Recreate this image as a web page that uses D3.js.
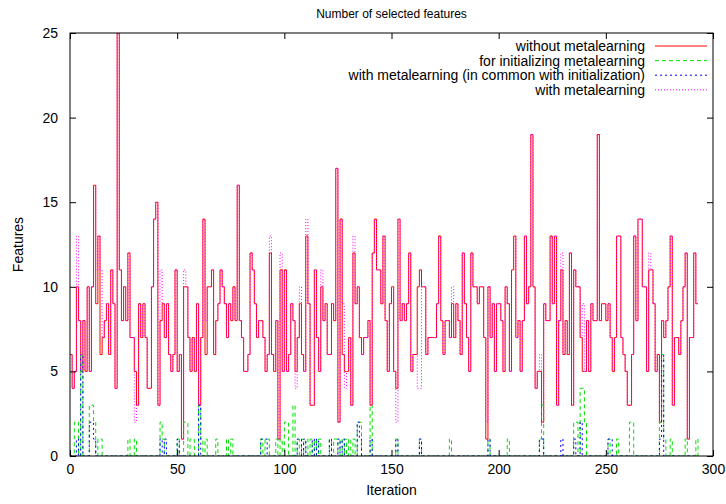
<!DOCTYPE html>
<html><head><meta charset="utf-8">
<script src="https://cdn.jsdelivr.net/npm/d3@7"></script>
<style>body{margin:0;background:#fff}svg{display:block}text{font-family:"Liberation Sans",Arial,sans-serif}</style>
</head><body>
<script>
const title = "Number of selected features";
const xLabel = "Iteration";
const yLabel = "Features";
const xTicks = [0, 50, 100, 150, 200, 250, 300];
const yTicks = [0, 5, 10, 15, 20, 25];
const seriesNames = ["without metalearning", "for initializing metalearning",
  "with metalearning (in common with initialization)", "with metalearning"];

const withoutMeta = [
  6,4,5,10,8,5,8,5,10,5, 10,16,9,13,6,7,8,9,6,11, 9,4,25,11,8,10,8,12,7,7,
  5,3,9,7,9,7,4,4,10,14, 15,3,8,9,7,9,6,5,6,11, 5,6,1,10,10,7,5,7,5,9,
  3,7,14,6,10,10,11,6,8,9, 11,10,9,7,9,8,10,8,16,8, 7,5,5,6,12,11,9,7,8,8,
  7,5,6,12,6,5,8,1,11,5, 11,5,6,9,8,5,7,9,6,5, 13,9,3,3,11,7,5,10,8,9,
  6,6,9,8,17,2,14,6,5,5, 7,3,12,9,10,7,6,7,7,8, 3,12,14,11,11,9,13,8,5,9,
  10,5,4,14,8,9,8,9,12,5, 6,6,10,11,10,10,6,7,7,7, 7,9,13,8,6,8,8,7,9,7,
  9,8,6,12,9,7,5,12,10,10, 9,10,10,7,1,10,7,9,5,9, 9,8,5,10,9,5,11,13,7,8,
  5,8,13,9,10,19,10,4,5,5, 2,9,8,8,13,9,13,3,8,11, 6,8,6,12,3,11,10,10,7,5,
  5,8,5,9,8,8,19,8,9,9, 8,9,7,5,7,13,13,7,6,5, 3,3,6,13,8,14,14,10,10,5,
  11,11,9,5,6,2,8,7,8,10, 13,3,7,7,6,8,10,12,1,7, 7,12,9,9
];
const forInit = [
  0,0,2,2,0,6,0,0,0,3, 3,2,0,1,1,0,0,0,0,0, 0,0,0,0,0,0,0,1,0,0,
  1,0,0,0,0,0,0,0,0,0, 0,0,2,1,0,0,0,0,0,0, 1,0,0,2,2,0,1,1,0,0,
  3,1,0,1,0,0,0,0,1,0, 0,0,0,1,0,1,0,0,0,0, 0,0,0,0,0,0,0,0,0,1,
  0,1,1,0,0,0,1,0,1,0, 2,2,0,0,3,0,1,0,1,0, 1,0,1,0,1,0,1,0,0,0,
  0,1,0,1,1,0,1,0,1,0, 1,0,1,0,2,2,0,0,0,0, 3,0,0,0,0,0,0,0,0,0,
  0,0,1,0,0,0,0,0,0,0, 0,0,0,1,0,0,0,0,0,0, 0,0,0,0,0,0,0,1,0,0,
  0,0,0,0,0,0,0,0,0,0, 0,0,0,0,0,1,0,0,0,0, 0,0,0,0,1,0,0,0,0,0,
  0,0,0,0,0,0,0,0,0,1, 3,0,0,0,0,0,0,0,0,0, 0,0,0,0,0,2,2,0,4,4,
  2,0,0,0,0,0,0,0,0,0, 0,1,0,0,0,1,0,0,0,0, 0,2,2,0,0,0,0,0,0,0,
  0,0,0,0,0,2,6,1,0,0, 1,0,0,0,0,0,0,1,0,0, 0,0,1,0
];
const inCommon = [
  0,0,0,1,0,6,0,0,0,2, 2,1,0,0,0,0,0,0,0,0, 0,0,0,0,0,0,0,0,0,0,
  0,0,0,0,0,0,0,0,0,0, 0,0,1,0,1,0,0,0,0,0, 1,0,0,0,0,0,0,0,0,0,
  3,0,0,0,0,0,0,0,0,0, 0,0,0,0,0,0,0,0,0,0, 0,0,0,0,0,0,0,0,0,1,
  1,1,0,0,0,0,0,0,0,0, 0,0,0,0,0,0,1,1,0,1, 0,0,0,1,0,1,0,0,0,0,
  0,1,0,0,0,1,0,1,0,0, 0,0,0,0,2,1,0,0,0,0, 1,0,0,0,0,0,0,0,0,0,
  0,0,1,0,0,0,0,0,0,0, 0,0,0,1,0,0,0,0,0,0, 0,0,0,0,0,0,0,0,0,0,
  0,0,0,0,0,0,0,0,0,0, 0,0,0,0,0,1,0,0,0,0, 0,0,0,0,0,0,0,0,0,0,
  0,0,0,0,0,0,0,0,0,1, 1,0,0,0,0,0,0,0,0,1, 0,0,0,0,0,1,0,0,2,0,
  0,0,0,0,0,0,0,0,0,0, 0,1,1,0,0,0,0,0,0,0, 0,0,0,0,0,0,0,0,0,0,
  0,0,0,0,0,1,6,0,0,0, 0,0,0,0,0,0,0,0,0,0, 0,0,0,0
];
const withMeta = [
  6,4,5,13,8,5,8,5,10,5, 10,16,11,13,11,7,8,9,6,11, 9,4,25,11,8,10,8,12,7,7,
  2,3,9,7,9,7,4,4,10,14, 15,3,11,9,7,9,6,5,6,11, 5,6,1,11,10,7,5,7,5,9,
  3,7,14,8,10,10,11,6,8,9, 11,10,9,7,9,8,10,8,16,8, 7,5,5,6,12,11,9,7,8,8,
  7,5,6,13,6,5,8,1,12,5, 11,5,6,9,8,4,7,10,6,5, 14,9,3,3,11,7,5,11,8,9,
  6,6,9,8,17,2,14,9,4,5, 7,3,13,9,10,7,6,7,7,8, 3,12,14,11,11,9,13,8,5,9,
  10,5,2,14,8,9,8,9,12,5, 6,6,4,4,10,10,6,7,7,7, 7,9,13,8,6,8,8,7,10,7,
  9,8,6,12,9,7,5,12,10,10, 9,10,10,7,2,10,7,9,5,9, 9,8,5,10,9,5,11,13,7,8,
  5,8,13,9,10,19,10,4,5,6, 2,9,8,8,13,9,13,3,8,12, 6,8,6,12,3,11,10,10,7,9,
  5,8,5,9,8,8,19,8,9,9, 8,9,7,5,7,13,13,7,6,5, 3,3,6,13,8,14,14,10,10,5,
  12,11,9,5,6,2,8,7,8,10, 13,3,7,7,6,8,10,12,1,7, 7,12,9,9
];

const W = 726, H = 504;
const m = {l: 70, r: 713, t: 33, b: 456};
const svg = d3.select("body").append("svg").attr("width", W).attr("height", H);
const x = d3.scaleLinear().domain([0, 300]).range([m.l, m.r]);
const y = d3.scaleLinear().domain([0, 25]).range([m.b, m.t]);

svg.append("defs").append("clipPath").attr("id", "clip")
  .append("rect").attr("x", m.l).attr("y", m.t).attr("width", m.r - m.l).attr("height", m.b - m.t);

const styles = [
  {data: withoutMeta, color: "#ff0000", dash: null},
  {data: forInit, color: "#00e000", dash: "4,3"},
  {data: inCommon, color: "#0000ff", dash: "2,3"},
  {data: withMeta, color: "#ff00ff", dash: "1,2"}
];
const line = d3.line().x((d, i) => x(i)).y(d => y(d)).curve(d3.curveStepAfter);
const g = svg.append("g").attr("clip-path", "url(#clip)");
styles.forEach(s => {
  g.append("path").datum(s.data).attr("d", line).attr("fill", "none")
    .attr("stroke", s.color).attr("stroke-width", 1)
    .attr("stroke-dasharray", s.dash);
});

const axBottom = svg.append("g").attr("transform", `translate(0,${m.b})`)
  .call(d3.axisBottom(x).tickValues(xTicks).tickSize(-6).tickPadding(8).tickFormat(d3.format("d")));
const axTop = svg.append("g").attr("transform", `translate(0,${m.t})`)
  .call(d3.axisTop(x).tickValues(xTicks).tickSize(-6).tickFormat(""));
const axLeft = svg.append("g").attr("transform", `translate(${m.l},0)`)
  .call(d3.axisLeft(y).tickValues(yTicks).tickSize(-6).tickPadding(12).tickFormat(d3.format("d")));
const axRight = svg.append("g").attr("transform", `translate(${m.r},0)`)
  .call(d3.axisRight(y).tickValues(yTicks).tickSize(-6).tickFormat(""));
[axBottom, axTop, axLeft, axRight].forEach(a => {
  a.select(".domain").remove();
  a.selectAll("line").attr("stroke", "#000");
  a.attr("font-family", null).attr("font-size", null);
  a.selectAll("text").attr("font-size", 14).attr("fill", "#000");
});
svg.append("rect").attr("x", m.l).attr("y", m.t).attr("width", m.r - m.l).attr("height", m.b - m.t)
  .attr("fill", "none").attr("stroke", "#000").attr("stroke-width", 1);

svg.append("text").attr("x", (m.l + m.r) / 2).attr("y", 18).attr("text-anchor", "middle")
  .attr("font-size", 12).text(title);
svg.append("text").attr("x", (m.l + m.r) / 2).attr("y", 495).attr("text-anchor", "middle")
  .attr("font-size", 14).text(xLabel);
svg.append("text").attr("transform", `translate(23,${(m.t + m.b) / 2}) rotate(-90)`)
  .attr("text-anchor", "middle").attr("font-size", 14).text(yLabel);

const lg = svg.append("g");
seriesNames.forEach((name, i) => {
  const yy = 46 + i * 14.6;
  lg.append("text").attr("x", 645).attr("y", yy + 5).attr("text-anchor", "end")
    .attr("font-size", 14).text(name);
  lg.append("line").attr("x1", 655).attr("x2", 707).attr("y1", yy).attr("y2", yy)
    .attr("stroke", styles[i].color).attr("stroke-dasharray", styles[i].dash);
});
</script>
</body></html>
